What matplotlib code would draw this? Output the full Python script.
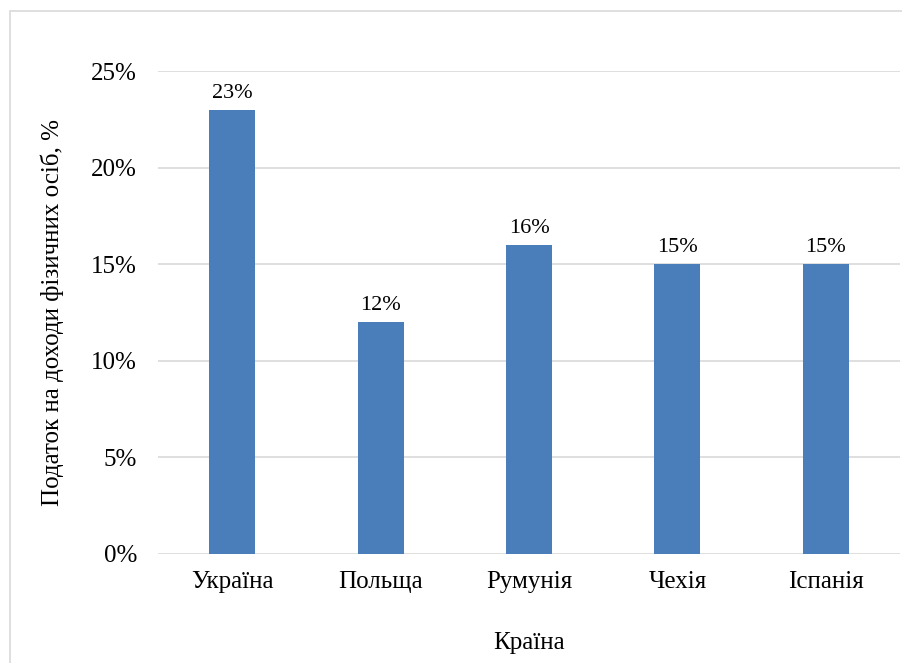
import matplotlib
matplotlib.use("Agg")
import matplotlib.pyplot as plt
from matplotlib.patches import Rectangle
from matplotlib.ticker import FuncFormatter

countries = ["Україна", "Польща", "Румунія", "Чехія", "Іспанія"]
rates = [23, 12, 16, 15, 15]
yticks = [0, 5, 10, 15, 20, 25]

plt.rcParams['font.family'] = ['Liberation Serif', 'DejaVu Serif']

W, H = 903, 663
fig = plt.figure(figsize=(W/100, H/100), dpi=100)
fig.patches.append(Rectangle((10/W, -0.01), 2, 1 - 11/H + 0.01,
                             transform=fig.transFigure, fill=False,
                             edgecolor='#d9d9d9', linewidth=1.2))
ax = fig.add_axes([158/W, 1 - 554/H, (900-158)/W, (554-71)/H])

x = range(len(countries))
ax.bar(x, rates, width=0.31, color='#4a7ebb', zorder=3)
for xi, v in zip(x, rates):
    ax.text(xi, v + 0.35, f"{v}%", ha='center', va='bottom', fontsize=16)

ax.set_xlim(-0.5, len(countries) - 0.5)
ax.set_ylim(0, 25)
ax.set_yticks(yticks)
ax.yaxis.set_major_formatter(FuncFormatter(lambda v, p: f"{int(v)}%"))
ax.set_xticks(list(x))
ax.set_xticklabels(countries)
ax.tick_params(axis='both', length=0, labelsize=18)
ax.tick_params(axis='y', pad=15)
ax.tick_params(axis='x', pad=12)
ax.grid(axis='y', color='#d9d9d9', linewidth=1.2, zorder=0)
for s in ax.spines.values():
    s.set_visible(False)

ax.set_ylabel("Податок на доходи фізичних осіб, %", fontsize=18, labelpad=20)
ax.set_xlabel("Країна", fontsize=18, labelpad=28)

fig.savefig("out.png", dpi=100)
